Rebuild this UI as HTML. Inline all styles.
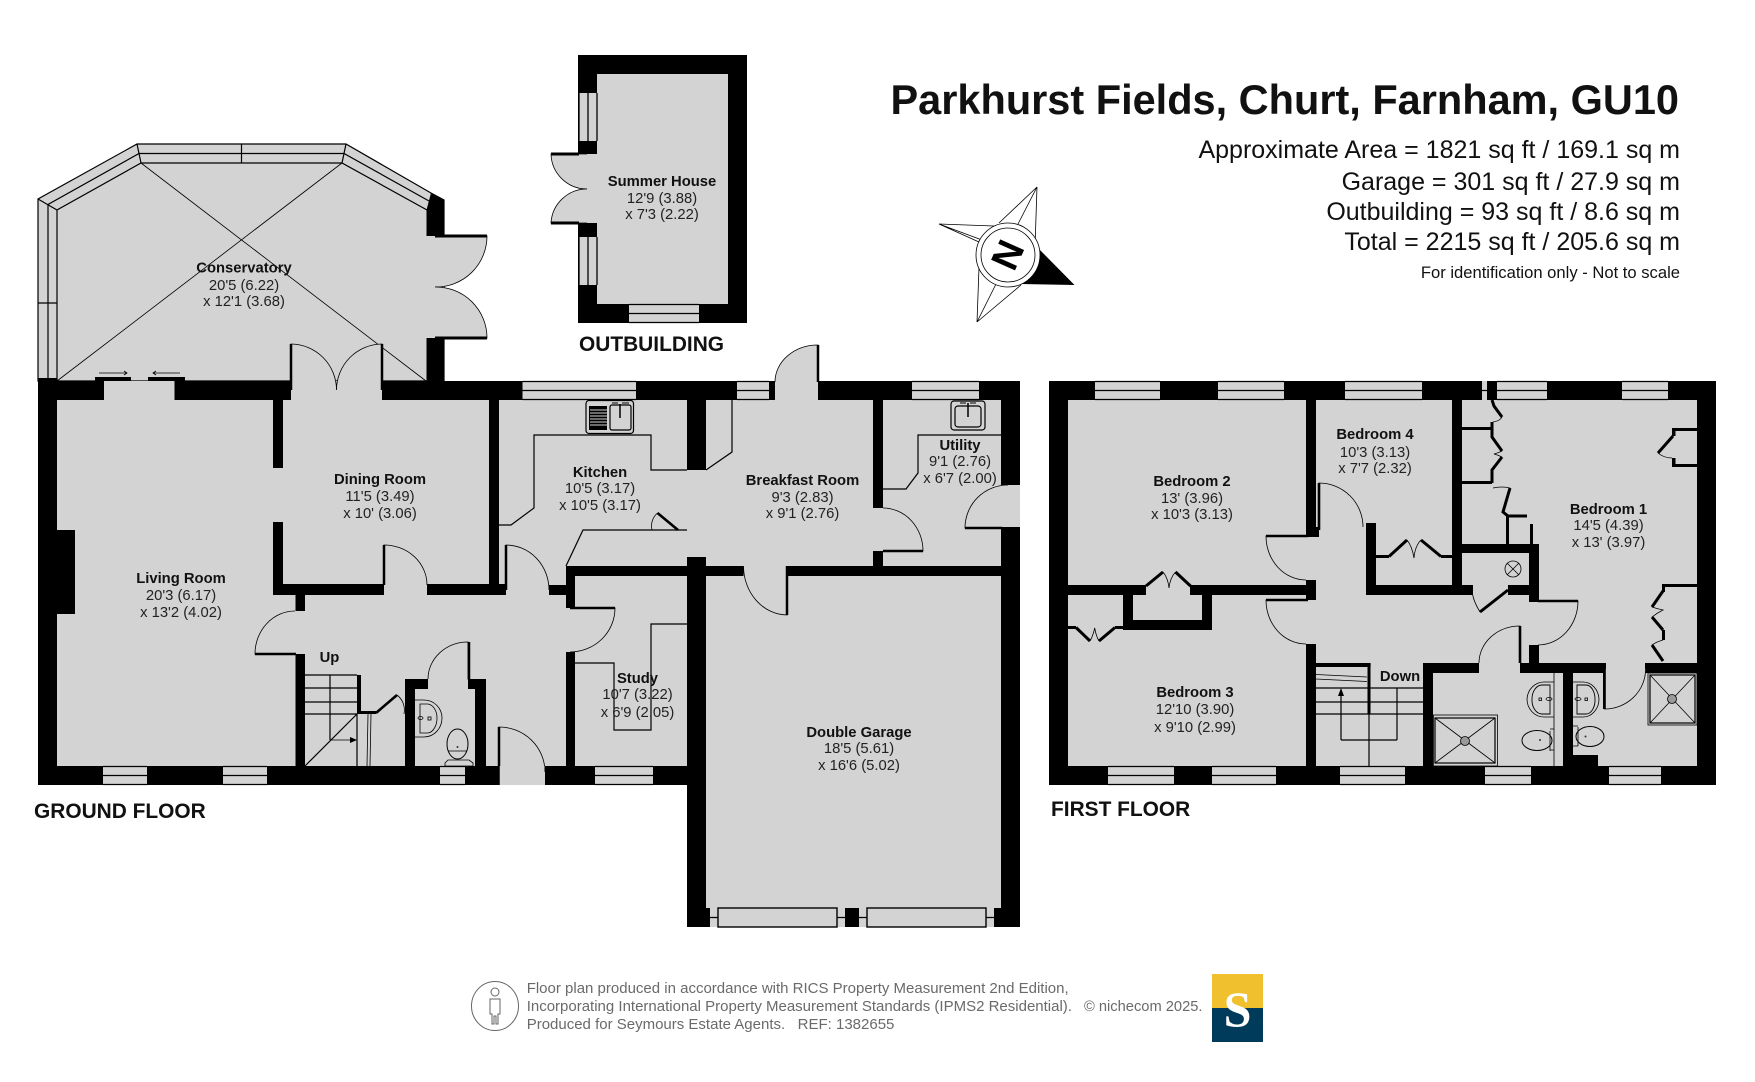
<!DOCTYPE html>
<html><head><meta charset="utf-8"><style>
html,body{margin:0;padding:0;background:#fff;width:1755px;height:1082px;overflow:hidden}
svg{display:block}
text{font-family:"Liberation Sans",Arial,sans-serif}
.n{font-weight:bold;font-size:14.8px;text-anchor:middle;fill:#111}
.d{font-size:14.8px;text-anchor:middle;fill:#222}
.h{font-weight:bold;font-size:20.9px;fill:#111}
.r{text-anchor:end;fill:#111}
.f{font-size:15px;fill:#6a6a6a;white-space:pre}
.g{fill:#d3d3d3}
.t{fill:none;stroke:#000;stroke-width:.8}
.m{fill:none;stroke:#000;stroke-width:1.2}
.x{fill:none;stroke:#000;stroke-width:1.3}
.k{fill:none;stroke:#000;stroke-width:3}
.a{fill:#d3d3d3;stroke:#000;stroke-width:.8}
</style></head><body>
<svg width="1755" height="1082" viewBox="0 0 1755 1082" xmlns="http://www.w3.org/2000/svg">
<rect width="1755" height="1082" fill="#fff"/>

<!-- Summer house -->
<rect x="578" y="55" width="169" height="268" fill="#000"/>
<rect class="g" x="597" y="74" width="131" height="230"/>
<rect class="g" x="578" y="154" width="19" height="69"/>
<rect class="g" x="579" y="93" width="18" height="48"/><rect class="g" x="579" y="237" width="18" height="48"/>
<path class="x" d="M579 93V141M588 93V141M597 93V141M579 237V285M588 237V285M597 237V285"/>
<rect class="g" x="629" y="304" width="70" height="19"/><path class="x" d="M629 304.5H699M629 313.5H699M629 322.5H699"/>
<path class="a" d="M587 154H551A36 36 0 0 0 587 189"/>
<path class="a" d="M587 223H551A36 36 0 0 1 587 189"/>
<path class="k" d="M551 154H579M551 223H579"/>

<!-- Conservatory -->
<path class="g" d="M38 381V199L137 144H346L431 193L444 200V381Z" style="stroke:#000;stroke-width:1.2"/>
<path class="m" d="M57 381V210L141 163H342L427 210M48 381V204.5L139 153.5H344L429 201M38 199L57 210M137 144L141 163M346 144L342 163M38 303H57M241.5 144V163"/>
<path class="t" d="M57 381L342 163M141 163L426 381"/>
<path fill="#000" d="M431 193L444.5 200V236H426.5V210Z"/>
<rect x="426.5" y="338" width="18" height="43"/>
<rect class="g" x="426" y="236" width="18" height="102"/>
<path class="a" d="M435 236H487A51 51 0 0 1 435 287"/>
<path class="a" d="M435 338H487A51 51 0 0 0 435 287"/>
<path class="k" d="M435 236H487M435 338H487"/>

<!-- Ground floor fill -->
<rect class="g" x="38" y="381" width="982" height="404"/>
<rect class="g" x="687" y="400" width="333" height="527"/>

<!-- Ground walls -->
<g fill="#000">
<rect x="38" y="378" width="19" height="407"/>
<rect x="57" y="530" width="18" height="84"/>
<rect x="38" y="381" width="66" height="19"/>
<rect x="174.5" y="381" width="116.5" height="19"/>
<rect x="382" y="381" width="140.5" height="19"/>
<rect x="636" y="381" width="101" height="19"/>
<rect x="769" y="381" width="6" height="19"/>
<rect x="818" y="381" width="94" height="19"/>
<rect x="979" y="381" width="41" height="19"/>
<rect x="1001" y="381" width="19" height="104"/>
<rect x="38" y="766" width="65" height="19"/>
<rect x="147" y="766" width="76" height="19"/>
<rect x="267" y="766" width="173" height="19"/>
<rect x="465" y="766" width="34" height="19"/>
<rect x="545" y="766" width="50" height="19"/>
<rect x="653" y="766" width="34" height="19"/>
<rect x="273" y="400" width="10" height="68"/>
<rect x="273" y="522" width="10" height="73"/>
<rect x="273" y="584" width="111" height="11"/>
<rect x="427" y="584" width="79" height="11"/>
<rect x="489" y="400" width="10" height="195"/>
<rect x="295.5" y="595" width="9.5" height="16"/>
<rect x="295.5" y="654" width="9.5" height="112"/>
<rect x="549" y="585" width="17" height="10"/>
<rect x="566" y="566" width="9" height="42"/>
<rect x="566" y="652" width="9" height="114"/>
<rect x="566" y="566" width="177.5" height="10"/>
<rect x="787" y="566" width="233" height="10"/>
<rect x="687" y="400" width="19" height="70"/>
<rect x="687" y="557" width="19" height="370"/>
<rect x="1001" y="528" width="19" height="399"/>
<rect x="687" y="908" width="23" height="19"/>
<rect x="994" y="908" width="26" height="19"/>
<rect x="845" y="908" width="14" height="19"/>
<rect x="873" y="400" width="10" height="108"/>
<rect x="873" y="551" width="10" height="15"/>
<rect x="357" y="675" width="4" height="39"/>
<rect x="361" y="711" width="15" height="3"/>
<rect x="405" y="679" width="10" height="87"/>
<rect x="405" y="679" width="23" height="10"/>
<rect x="468" y="679" width="18" height="10"/>
<rect x="475" y="679" width="11" height="87"/>
</g>

<!-- sliding doors -->
<rect x="95" y="377" width="36" height="3.5"/><rect x="148" y="377" width="37" height="3.5"/>
<path class="t" d="M99 373H127M124 371L127 373L124 375M180 373H153M156 371L153 373L156 375"/>

<!-- ground windows -->
<path class="x" d="M522.5 381.5H636M522.5 390.5H636M522.5 399.5H636M737 381.5H769M737 390.5H769M737 399.5H769M912 381.5H979M912 390.5H979M912 399.5H979"/>
<path class="x" d="M103 766.5H147M103 775.5H147M103 784.5H147M223 766.5H267M223 775.5H267M223 784.5H267M440 766.5H465M440 775.5H465M440 784.5H465M595 766.5H653M595 775.5H653M595 784.5H653"/>
<!-- garage door -->
<rect x="718" y="908" width="119" height="19" class="g" stroke="#000" style="stroke-width:1.4"/>
<rect x="867" y="908" width="119" height="19" class="g" stroke="#000" style="stroke-width:1.4"/>
<path class="m" d="M710 917.5H718M837 917.5H845M859 917.5H867M986 917.5H994"/>

<!-- Ground doors -->
<path class="a" d="M291 390V344A46 46 0 0 1 336.5 390"/>
<path class="a" d="M382 390V344A46 46 0 0 0 336.5 390"/>
<path class="a" d="M384 585V545A43 40 0 0 1 427 585"/>
<path class="a" d="M506 590V545A43 45 0 0 1 549 590"/>
<path class="a" d="M295 654H255A40 43 0 0 1 295 611"/>
<path class="a" d="M570 608H615A45 44 0 0 1 570 652"/>
<path class="a" d="M468 679V642A40 37 0 0 0 428 679"/>
<path class="a" d="M499 772V727A46 45 0 0 1 545 772"/>
<path class="a" d="M818 382V345A43 37 0 0 0 775 382"/>
<path class="a" d="M787 566V615A44 49 0 0 1 743.5 566"/>
<path class="a" d="M883 551H923A40 43 0 0 0 883 508"/>
<path class="a" d="M1008 528H965A43 43 0 0 1 1008 485"/>
<path style="fill:none;stroke:#000;stroke-width:2.5" d="M291 344V390M382 344V390M384 545V585M506 545V590M255 654H296M570 608H615M469 642V680M499 727V785M818 345V382M787 566V615M883 551H923M965 528H1020"/>
<rect class="g" x="499.5" y="766" width="45" height="19"/>
<path d="M499 727V785" style="stroke:#000;stroke-width:1.5"/>
<rect class="g" x="1002" y="486" width="18" height="41"/>

<!-- Kitchen fittings -->
<path class="m" d="M499 525H511L534 508V435H651V470H687M706 470L732 452V400"/>
<path class="m" d="M566 566L583 530H687"/>
<path style="stroke:#000;stroke-width:2.6" d="M657.5 513L678 530"/>
<path class="t" d="M657.5 513A17 17 0 0 0 652 530"/>
<rect x="586" y="400.5" width="47.5" height="33" rx="3" class="m"/>
<rect x="589" y="406" width="18" height="24" fill="#000"/>
<path d="M590 410H607M590 413H607M590 416H607M590 419H607M590 422H607M590 425H607" stroke="#d3d3d3" stroke-width="1"/>
<rect x="610" y="405" width="21" height="25" rx="2" class="m"/>
<path d="M620 404V418" stroke="#000" stroke-width="1.5"/>
<path d="M612 403H618M622 403H629" stroke="#000" stroke-width="1"/>
<rect x="951" y="401" width="34" height="29" rx="3" class="m"/>
<rect x="955" y="406" width="26" height="21" rx="3" class="m"/>
<path d="M968 403V417" stroke="#000" stroke-width="1.5"/>
<path d="M960 403H966M970 403H976" stroke="#000" stroke-width="1"/>
<path class="m" d="M883 489H906L918 473V435H1001"/>

<!-- Study fitting -->
<path class="m" d="M575 663H614V730H651V624H687"/>

<!-- Ground stairs -->
<path class="m" d="M305 675H357M305 688H357M305 702H357M305 714H357M330 675V740M357 714V766M357 714L305 766"/>
<path class="t" d="M330 740H352M368 714L367 766M371 714L370 766"/>
<path d="M357 740L350 737V743Z" fill="#000"/>
<path style="stroke:#000;stroke-width:2.6;fill:none" d="M376 713L397 695"/>
<path class="t" d="M397 695A19 19 0 0 1 404 714"/>

<!-- WC -->
<path class="t" d="M415 700H424A18 18 0 0 1 442 718A18 19 0 0 1 424 737H415"/>
<path class="t" d="M420 704H428A10 14 0 0 1 437 718A10 15 0 0 1 428 733H420V704Z"/>
<rect x="428" y="717" width="3" height="3" class="t"/><ellipse cx="420.5" cy="718" rx="2.5" ry="1.5" class="t"/>
<ellipse cx="457.5" cy="744" rx="10.5" ry="15" class="t" style="stroke-width:1"/>
<path class="a" d="M448 760H469L473 763V766H445V763Z"/>
<path class="t" d="M448 751H467"/><circle cx="457.5" cy="747" r="1" fill="#333"/>

<!-- Ground labels -->
<text class="n" x="244" y="272.5">Conservatory</text><text class="d" x="244" y="290">20'5 (6.22)</text><text class="d" x="244" y="306">x 12'1 (3.68)</text>
<text class="n" x="662" y="186">Summer House</text><text class="d" x="662" y="203">12'9 (3.88)</text><text class="d" x="662" y="219">x 7'3 (2.22)</text>
<text class="n" x="181" y="583">Living Room</text><text class="d" x="181" y="600">20'3 (6.17)</text><text class="d" x="181" y="617">x 13'2 (4.02)</text>
<text class="n" x="380" y="484">Dining Room</text><text class="d" x="380" y="501">11'5 (3.49)</text><text class="d" x="380" y="518">x 10' (3.06)</text>
<text class="n" x="600" y="477">Kitchen</text><text class="d" x="600" y="493">10'5 (3.17)</text><text class="d" x="600" y="510">x 10'5 (3.17)</text>
<text class="n" x="802.5" y="485">Breakfast Room</text><text class="d" x="802.5" y="502">9'3 (2.83)</text><text class="d" x="802.5" y="518">x 9'1 (2.76)</text>
<text class="n" x="960" y="450">Utility</text><text class="d" x="960" y="466">9'1 (2.76)</text><text class="d" x="960" y="483">x 6'7 (2.00)</text>
<text class="n" x="637.5" y="683">Study</text><text class="d" x="637.5" y="699">10'7 (3.22)</text><text class="d" x="637.5" y="717">x 6'9 (2.05)</text>
<text class="n" x="859" y="737">Double Garage</text><text class="d" x="859" y="753">18'5 (5.61)</text><text class="d" x="859" y="770">x 16'6 (5.02)</text>
<text class="n" x="329.5" y="662">Up</text>
<text class="h" x="579" y="351">OUTBUILDING</text>
<text class="h" x="34" y="818">GROUND FLOOR</text>

<!-- FIRST FLOOR -->
<rect class="g" x="1049" y="381" width="667" height="404"/>
<g fill="#000">
<rect x="1049" y="381" width="19" height="404"/>
<rect x="1697" y="381" width="19" height="404"/>
<rect x="1049" y="381" width="46" height="19"/>
<rect x="1160" y="381" width="58" height="19"/>
<rect x="1284" y="381" width="61" height="19"/>
<rect x="1422" y="381" width="60" height="19"/>
<rect x="1487" y="381" width="10" height="19"/>
<rect x="1547" y="381" width="75" height="19"/>
<rect x="1668" y="381" width="48" height="19"/>
<rect x="1049" y="766" width="59" height="19"/>
<rect x="1174" y="766" width="38" height="19"/>
<rect x="1276" y="766" width="64" height="19"/>
<rect x="1405" y="766" width="80" height="19"/>
<rect x="1531" y="766" width="78" height="19"/>
<rect x="1661" y="766" width="55" height="19"/>
<rect x="1306" y="400" width="10" height="137"/>
<rect x="1306" y="580" width="10" height="20"/>
<rect x="1306" y="644" width="10" height="122"/>
<rect x="1068" y="585" width="78" height="10"/>
<rect x="1190" y="585" width="116" height="10"/>
<rect x="1123" y="595" width="10" height="35"/>
<rect x="1202" y="595" width="10" height="35"/>
<rect x="1123" y="620" width="89" height="10"/>
<rect x="1068" y="626" width="8" height="3"/>
<rect x="1115" y="626" width="8" height="3"/>
<rect x="1366" y="523" width="10" height="72"/>
<rect x="1366" y="585" width="107" height="10"/>
<rect x="1376" y="555" width="13" height="3"/>
<rect x="1441" y="555" width="11" height="3"/>
<rect x="1452" y="400" width="10" height="185"/>
<rect x="1462" y="544" width="77" height="9"/>
<rect x="1529" y="544" width="10" height="58"/>
<rect x="1508" y="585" width="22" height="10"/>
<rect x="1529" y="645" width="10" height="18"/>
<rect x="1423" y="663" width="56" height="10"/>
<rect x="1423" y="663" width="10" height="103"/>
<rect x="1520" y="663" width="84" height="10"/>
<rect x="1563" y="663" width="10" height="103"/>
<rect x="1573" y="755" width="25" height="11"/>
<rect x="1645" y="663" width="52" height="10"/>
<rect x="1603" y="663" width="3" height="46"/>
<rect x="1518" y="640" width="2.5" height="23"/>
<rect x="1462" y="427" width="30" height="3"/>
<rect x="1462" y="481" width="30" height="3"/>
<rect x="1506" y="516" width="3" height="28"/>
<rect x="1530" y="524" width="3" height="20"/>
<rect x="1672" y="428" width="25" height="3"/>
<rect x="1672" y="428" width="3.5" height="8"/>
<rect x="1672" y="458" width="3.5" height="9"/>
<rect x="1672" y="464" width="25" height="3"/>
<rect x="1662" y="584" width="35" height="3"/>
<rect x="1662" y="584" width="3" height="8"/>
<rect x="1662" y="630" width="3" height="10"/>
<rect x="1316" y="663" width="54.6" height="4"/>
<rect x="1367.5" y="663" width="3" height="51"/>
</g>
<!-- First floor windows -->
<path class="x" d="M1095 381.5H1160M1095 390.5H1160M1095 399.5H1160M1218 381.5H1284M1218 390.5H1284M1218 399.5H1284M1345 381.5H1422M1345 390.5H1422M1345 399.5H1422M1497 381.5H1547M1497 390.5H1547M1497 399.5H1547M1622 381.5H1668M1622 390.5H1668M1622 399.5H1668M1482 390.5H1487"/>
<path class="x" d="M1108 766.5H1174M1108 775.5H1174M1108 784.5H1174M1212 766.5H1276M1212 775.5H1276M1212 784.5H1276M1340 766.5H1405M1340 775.5H1405M1340 784.5H1405M1485 766.5H1531M1485 775.5H1531M1485 784.5H1531M1609 766.5H1661M1609 775.5H1661M1609 784.5H1661"/>

<!-- First floor doors -->
<path class="a" d="M1319 527V483A44 44 0 0 1 1363 527"/>
<path class="a" d="M1306 536H1266A40 44 0 0 0 1306 580"/>
<path class="a" d="M1306 600H1266A40 44 0 0 0 1306 644"/>
<path class="a" d="M1520 663V626A41 37 0 0 0 1479 663"/>
<path class="a" d="M1538 601H1578A40 44 0 0 1 1538 645"/>
<path class="a" d="M1604.5 669V709A41 40 0 0 0 1645.6 669"/>
<path style="fill:none;stroke:#000;stroke-width:2.6" d="M1319 483V530M1266 536H1308M1266 600H1308M1520 626V663M1538 601H1578M1604.5 663V709"/>
<rect x="1306" y="527" width="13" height="10" fill="#000"/>

<!-- Closets -->
<path class="k" d="M1146 586L1163 572M1175.5 572L1190.5 586"/>
<path class="t" d="M1163 572Q1168 578 1169 588Q1170 578 1175.5 572"/>
<path class="k" d="M1076 627.5L1090 641M1099 641L1115 627.5"/>
<path class="t" d="M1090 641Q1093 636 1094.7 628Q1096 636 1099 641"/>
<path class="k" d="M1389 556.5L1407 540M1421 540L1441 556.5"/>
<path class="t" d="M1407 540Q1412 546 1414 558Q1415 546 1421 540"/>
<path class="k" d="M1492 400L1494 406L1502 417M1492 422V437L1502 451M1502 457L1492 470V483M1510 488L1503 512L1508 516H1527"/>
<path class="t" d="M1502 417Q1500 421 1493 422M1502 451Q1498 453 1494 454Q1498 455 1502 457M1493 488Q1502 486 1510 488"/>
<path class="k" d="M1673 436L1658 453"/>
<path class="t" d="M1658 453Q1664 458 1672 458"/>
<path class="k" d="M1663 591L1652 607M1652 617L1663 630M1652 645L1663 661"/>
<path class="t" d="M1652 607Q1658 609 1663 610Q1657 613 1652 617M1663 640Q1656 642 1652 645"/>
<path style="fill:none;stroke:#000;stroke-width:3" d="M1508 590L1480 612"/>
<path class="t" d="M1480 612Q1474 602 1472.7 595"/>
<ellipse cx="1513" cy="569" rx="8" ry="8" class="t"/>
<path class="t" d="M1507 563L1519 575M1519 563L1507 575"/>

<!-- Stairs first floor -->
<path class="m" d="M1316 688H1423M1316 702H1423M1316 714H1423M1397 688V740M1341 740H1397M1341 740V692M1369 714V766"/>
<path class="t" d="M1316 674.5L1367 677M1316 679L1367 681.5"/>
<path d="M1341 688L1338 696H1344Z" fill="#000"/>

<!-- Bathrooms -->
<rect x="1433.5" y="715" width="64" height="51" class="t"/>
<rect x="1435" y="718" width="60" height="45" class="m"/>
<path class="t" d="M1435 718L1495 763M1495 718L1435 763"/>
<circle cx="1465" cy="741" r="4.5" fill="#999" stroke="#000" stroke-width=".8"/>
<rect x="1648" y="673" width="49" height="52" class="t"/>
<rect x="1650" y="675" width="45" height="48" class="m"/>
<path class="t" d="M1650 675L1695 723M1695 675L1650 723"/>
<circle cx="1672" cy="699" r="4.5" fill="#999" stroke="#000" stroke-width=".8"/>
<path class="t" d="M1554 673V766"/>
<path class="t" d="M1554 682H1544A17 18 0 0 0 1527 699A17 18 0 0 0 1544 717H1554"/>
<path class="m" d="M1550 685H1542A10 14 0 0 0 1532 699A10 14 0 0 0 1542 714H1550Z" style="stroke-width:.9"/>
<path class="t" d="M1573 682H1583A16 18 0 0 1 1599 699A16 18 0 0 1 1583 717H1573"/>
<path class="m" d="M1577 685H1586A9 14 0 0 1 1595 699A9 14 0 0 1 1586 714H1577Z" style="stroke-width:.9"/>
<rect x="1539" y="698" width="2.5" height="2.5" class="t"/><ellipse cx="1549" cy="699" rx="3" ry="1.5" class="t"/>
<rect x="1585" y="698" width="2.5" height="2.5" class="t"/><ellipse cx="1578" cy="699" rx="3" ry="1.5" class="t"/>
<ellipse cx="1537" cy="740.5" rx="15" ry="10" fill="none" stroke="#000" stroke-width="1"/>
<ellipse cx="1590" cy="736.5" rx="14" ry="10" fill="none" stroke="#000" stroke-width="1"/>
<path class="t" d="M1550 731V751M1578 727V746M1550 729H1554M1550 750H1554M1573 726H1578M1573 746H1578"/>
<circle cx="1540" cy="740" r="1" fill="#333"/><circle cx="1585.5" cy="736.5" r="1" fill="#333"/>

<!-- First floor labels -->
<text class="n" x="1192" y="486">Bedroom 2</text><text class="d" x="1192" y="503">13' (3.96)</text><text class="d" x="1192" y="519">x 10'3 (3.13)</text>
<text class="n" x="1375" y="439">Bedroom 4</text><text class="d" x="1375" y="457">10'3 (3.13)</text><text class="d" x="1375" y="473">x 7'7 (2.32)</text>
<text class="n" x="1608.5" y="514">Bedroom 1</text><text class="d" x="1608.5" y="530">14'5 (4.39)</text><text class="d" x="1608.5" y="547">x 13' (3.97)</text>
<text class="n" x="1195" y="697">Bedroom 3</text><text class="d" x="1195" y="714">12'10 (3.90)</text><text class="d" x="1195" y="732">x 9'10 (2.99)</text>
<text class="n" x="1400" y="681">Down</text>
<text class="h" x="1051" y="816">FIRST FLOOR</text>

<!-- Title -->
<text x="890.5" y="114" textLength="788.5" lengthAdjust="spacingAndGlyphs" style="font-weight:bold;font-size:41.5px;fill:#111">Parkhurst Fields, Churt, Farnham, GU10</text>
<text class="r" x="1680" y="158" style="font-size:25px">Approximate Area = 1821 sq ft / 169.1 sq m</text>
<text class="r" x="1680" y="190" style="font-size:25px">Garage = 301 sq ft / 27.9 sq m</text>
<text class="r" x="1680" y="220" style="font-size:25px">Outbuilding = 93 sq ft / 8.6 sq m</text>
<text class="r" x="1680" y="250" style="font-size:25px">Total = 2215 sq ft / 205.6 sq m</text>
<text class="r" x="1680" y="278" style="font-size:16.6px">For identification only - Not to scale</text>

<!-- Compass -->
<g>
<path d="M1021 284L1074.5 285L1037 247Z" fill="#000"/>
<path class="t" d="M1037 187L999 223M1037 187L1035 247M939 224L994 226M939 224L979 242M977 322L979 268M977 322L1021 285M1037 187L1018 224M939 224L982 240M977 322L996 284"/>
<circle cx="1008" cy="255" r="32" fill="#fff" stroke="#000" stroke-width=".8"/>
<circle cx="1008" cy="255" r="27" fill="#fff" stroke="#000" stroke-width=".8"/>
<text x="0" y="0" transform="translate(1008 255) rotate(114)" text-anchor="middle" dy="13.5" style="font-weight:bold;font-size:38px">N</text>
</g>

<!-- Footer -->
<ellipse cx="495" cy="1006" rx="23.5" ry="24.5" fill="none" stroke="#666" stroke-width="1"/>
<circle cx="495" cy="992" r="4" fill="none" stroke="#666" stroke-width="1"/>
<path d="M490 999H500V1014H498V1024H496V1016H494V1024H492V1014H490Z" fill="none" stroke="#666" stroke-width="1"/>
<text class="f" x="526.7" y="993">Floor plan produced in accordance with RICS Property Measurement 2nd Edition,</text>
<text class="f" x="526.7" y="1011">Incorporating International Property Measurement Standards (IPMS2 Residential).</text>
<text class="f" x="1084" y="1011" textLength="118.5" lengthAdjust="spacingAndGlyphs">© nichecom 2025.</text>
<text class="f" x="526.7" y="1029">Produced for Seymours Estate Agents.   REF: 1382655</text>
<rect x="1212" y="974" width="51" height="34" fill="#f0c02f"/>
<rect x="1212" y="1008" width="51" height="34" fill="#003b5c"/>
<text x="1237.5" y="1026" text-anchor="middle" style="font-family:'Liberation Serif',serif;font-weight:bold;font-size:50px;fill:#fff">S</text>
</svg>
</body></html>
